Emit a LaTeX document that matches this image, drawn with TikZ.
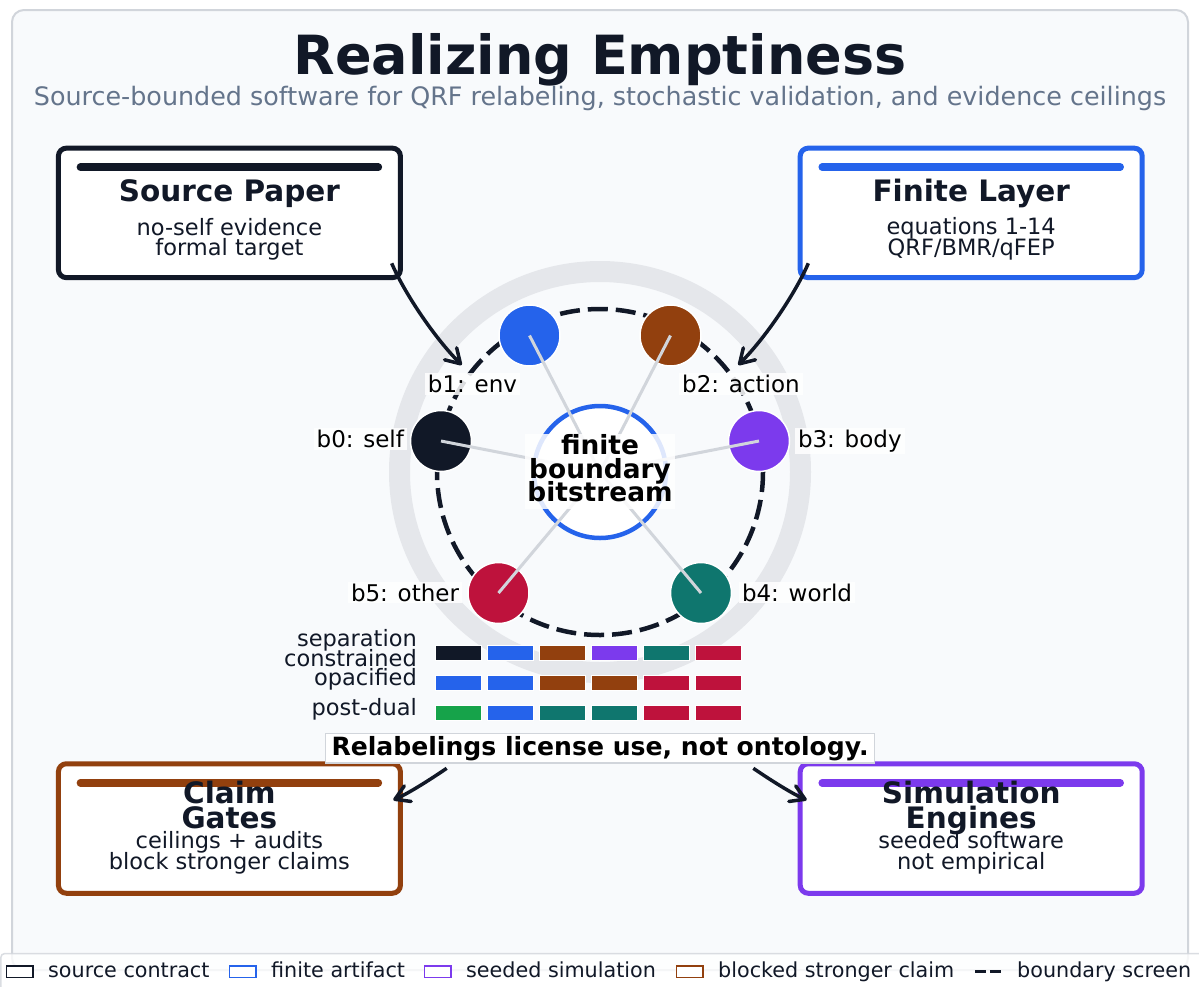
\documentclass[tikz,border=0pt]{standalone}
\usepackage{fontspec}
\setmainfont{DejaVu Sans}
\usetikzlibrary{arrows.meta,calc}

\definecolor{ink}{HTML}{111827}
\definecolor{slate}{HTML}{64748B}
\definecolor{panelfill}{HTML}{F8FAFC}
\definecolor{panelline}{HTML}{D1D5DB}
\definecolor{ringgray}{HTML}{E5E7EB}
\definecolor{spokegray}{HTML}{D1D5DB}
\definecolor{cblue}{HTML}{2563EB}
\definecolor{cbrown}{HTML}{92400E}
\definecolor{cpurple}{HTML}{7C3AED}
\definecolor{cteal}{HTML}{0F766E}
\definecolor{ccrimson}{HTML}{BE123C}
\definecolor{cgreen}{HTML}{16A34A}

\tikzset{
  card/.style={draw=#1, line width=5pt, rounded corners=8pt, fill=white,
    minimum width=342pt, minimum height=129.5pt, inner sep=0, outer sep=0},
  accent/.style={draw=#1, line width=7.5pt, line cap=round},
  cardtitle/.style={anchor=base, inner sep=0, text=ink, font=\fontsize{29.5}{32}\selectfont\bfseries},
  cardbody/.style={anchor=base, inner sep=0, text=ink, font=\fontsize{22.5}{26}\selectfont},
  bit/.style={circle, fill=#1, draw=white, line width=1.5pt, minimum size=61pt, inner sep=0},
  bitlabel/.style={font=\fontsize{23}{26}\selectfont, text=black, fill=white, fill opacity=0.85,
    text opacity=1, inner xsep=3pt, inner ysep=2pt, outer sep=0},
  spoke/.style={draw=spokegray, line width=3pt},
  flow/.style={draw=ink, line width=3.5pt, -{Straight Barb[length=14pt,width=17pt,round]}},
  cell/.style={fill=#1, draw=white, line width=1pt, minimum width=45.5pt, minimum height=14.7pt, inner sep=0},
  rowlabel/.style={anchor=base east, inner sep=0, text=ink, font=\fontsize{22.5}{26}\selectfont},
  coreline/.style={anchor=base, inner sep=0, text=black, font=\fontsize{26.4}{28}\selectfont\bfseries},
  swatch/.style={draw=#1, line width=1.5pt, fill=white, minimum width=26.5pt, minimum height=11.5pt, inner sep=0},
  legtext/.style={anchor=base west, inner sep=0, text=ink, font=\fontsize{20.7}{24}\selectfont},
}

\begin{document}
\begin{tikzpicture}[x=1pt,y=-1pt]
\useasboundingbox (0,0) rectangle (1199,986);
\fill[white] (0,0) rectangle (1199,986);

% panel
\draw[draw=panelline, fill=panelfill, line width=2pt, rounded corners=12pt] (12,10) rectangle (1188,970);

% heading
\node[anchor=base, inner sep=0, text=ink, font=\fontsize{54}{60}\selectfont\bfseries] (title) at (600,74) {Realizing Emptiness};
\node[anchor=base, inner sep=0, text=slate, font=\fontsize{25.4}{28}\selectfont] (subtitle) at (600,105)
  {Source-bounded software for QRF relabeling, stochastic validation, and evidence ceilings};

% central diagram: ring, screen, hub
\coordinate (hub) at (600,472);
\draw[ringgray, line width=21pt] (hub) circle[radius=200.5];
\draw[ink, line width=4.5pt, dash pattern=on 20pt off 8pt] (hub) circle[radius=163];
\node[circle, draw=cblue, line width=4.5pt, fill=white, minimum size=132pt, inner sep=0] (core) at (hub) {};

\node[bit=ink] (b0) at (441,441) {};
\node[bit=cblue] (b1) at (529.5,335.5) {};
\node[bit=cbrown] (b2) at (670.5,335.5) {};
\node[bit=cpurple] (b3) at (759,441) {};
\node[bit=cteal] (b4) at (701,593) {};
\node[bit=ccrimson] (b5) at (498.5,593) {};

\foreach \b in {b0,b1,b2,b3,b4,b5} \draw[spoke] (\b.center) -- (hub);

\node[fill=white, fill opacity=0.85, minimum width=150pt, minimum height=75pt, inner sep=0] (corebox) at (600,471.5) {};
\node[coreline] (core1) at (600,454.3) {finite};
\node[coreline] (core2) at (600,478.3) {boundary};
\node[coreline] (core3) at (600,501.7) {bitstream};

\node[bitlabel, anchor=base] (l1) at (472.5,392.7) {b1: env};
\node[bitlabel, anchor=base] (l2) at (741,392.7) {b2: action};
\node[bitlabel, anchor=base east] (l0) at (407,447.7) {b0: self};
\node[bitlabel, anchor=base west] (l3) at (795,447.7) {b3: body};
\node[bitlabel, anchor=base east] (l5) at (462,601) {b5: other};
\node[bitlabel, anchor=base west] (l4) at (739,601) {b4: world};

% relabeling rows
\node[rowlabel] (r1a) at (417,646.7) {separation};
\node[rowlabel] (r1b) at (417,666) {constrained};
\node[rowlabel] (r2) at (417,685.7) {opacified};
\node[rowlabel] (r3) at (417,715.7) {post-dual};
\foreach \c [count=\i from 0] in {ink,cblue,cbrown,cpurple,cteal,ccrimson}
  \node[cell=\c] (sep\i) at (458.7+52*\i,653.3) {};
\foreach \c [count=\i from 0] in {cblue,cblue,cbrown,cbrown,ccrimson,ccrimson}
  \node[cell=\c] (opa\i) at (458.7+52*\i,683.3) {};
\foreach \c [count=\i from 0] in {cgreen,cblue,cteal,cteal,ccrimson,ccrimson}
  \node[cell=\c] (pd\i) at (458.7+52*\i,713) {};

% cards
\node[card=ink] (src) at (229.4,212.9) {};
\draw[accent=ink] ($(src.north west)+(22,19)$) -- ($(src.north east)+(-22,19)$);
\node[cardtitle] (srcT) at (229.4,201.5) {Source Paper};
\node[cardbody] (srcA) at (229.4,235) {no-self evidence};
\node[cardbody] (srcB) at (229.4,255) {formal target};

\node[card=cblue] (fin) at (971.2,212.9) {};
\draw[accent=cblue] ($(fin.north west)+(22,19)$) -- ($(fin.north east)+(-22,19)$);
\node[cardtitle] (finT) at (971.2,201.5) {Finite Layer};
\node[cardbody] (finA) at (971.2,234.5) {equations 1-14};
\node[cardbody] (finB) at (971.2,255) {QRF/BMR/qFEP};

\node[card=cbrown] (gate) at (229.4,828.5) {};
\draw[accent=cbrown] ($(gate.north west)+(22,19)$) -- ($(gate.north east)+(-22,19)$);
\node[cardtitle] (gateT1) at (229.4,803.3) {Claim};
\node[cardtitle] (gateT2) at (229.4,828.3) {Gates};
\node[cardbody] (gateA) at (229.4,848.5) {ceilings + audits};
\node[cardbody] (gateB) at (229.4,869.3) {block stronger claims};

\node[card=cpurple] (sim) at (971.2,828.5) {};
\draw[accent=cpurple] ($(sim.north west)+(22,19)$) -- ($(sim.north east)+(-22,19)$);
\node[cardtitle] (simT1) at (971.2,803.3) {Simulation};
\node[cardtitle] (simT2) at (971.2,828.3) {Engines};
\node[cardbody] (simA) at (971.2,848.5) {seeded software};
\node[cardbody] (simB) at (971.2,869.3) {not empirical};

% banner
\node[anchor=base, draw=panelline, line width=1.5pt, fill=white, inner xsep=6pt, inner ysep=2.5pt,
  text=black, font=\fontsize{25.1}{28}\selectfont\bfseries] (banner) at (600,755)
  {Relabelings license use, not ontology.};

% flows
\coordinate (srcTail) at (391.7,263.3);
\coordinate (envHead) at (461.7,365);
\coordinate (finTail) at (808.3,263.3);
\coordinate (actHead) at (738.3,365);
\coordinate (banL) at (446.7,768.3);
\coordinate (gateHead) at (393.3,800);
\coordinate (banR) at (753.3,768.3);
\coordinate (simHead) at (806.7,800);
\draw[flow] (srcTail) .. controls (403,290) and (432,335) .. (envHead);
\draw[flow] (finTail) .. controls (797,290) and (768,335) .. (actHead);
\draw[flow] (banL) .. controls (423.6,784) and (405.8,794.5) .. (gateHead);
\draw[flow] (banR) .. controls (776.4,784) and (794.2,794.5) .. (simHead);

% legend
\draw[draw=panelline, draw opacity=0.8, fill=white, fill opacity=0.8, line width=1.5pt, rounded corners=4pt]
  (0.8,953.5) rectangle (1215,1000);
\node[swatch=ink] (k1) at (19.5,971.6) {};
\node[legtext] (k1t) at (48,977.3) {source contract};
\node[swatch=cblue] (k2) at (242.7,971.6) {};
\node[legtext] (k2t) at (271,977.3) {finite artifact};
\node[swatch=cpurple] (k3) at (437.7,971.6) {};
\node[legtext] (k3t) at (466,977.3) {seeded simulation};
\node[swatch=cbrown] (k4) at (689.5,971.6) {};
\node[legtext] (k4t) at (718,977.3) {blocked stronger claim};
\coordinate (k5a) at (975,971);
\coordinate (k5b) at (1001,971);
\draw[ink, line width=3pt, dash pattern=on 11pt off 4pt] (k5a) -- (k5b);
\node[legtext] (k5t) at (1017,977.3) {boundary screen};
\end{tikzpicture}
\end{document}
